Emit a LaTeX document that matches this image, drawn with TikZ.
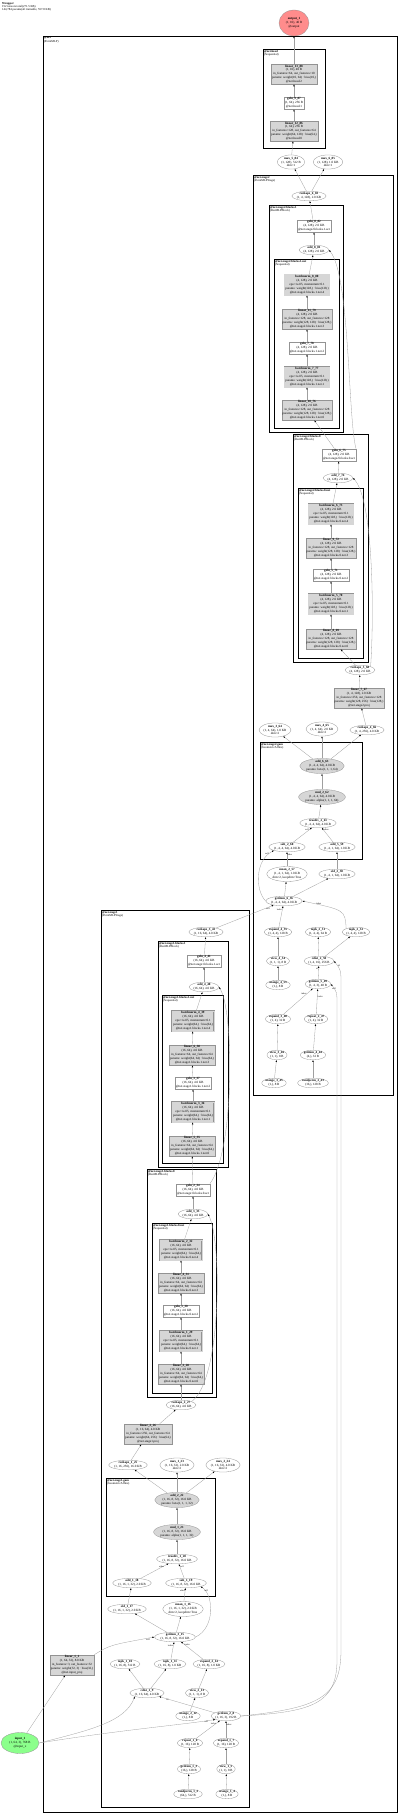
\documentclass[tikz,border=0pt]{standalone}
\usepackage{fontspec}
\setmainfont{Liberation Serif}
\usepackage{tikz}
\usetikzlibrary{shapes.geometric, arrows.meta}
\newcommand{\nsize}{\fontsize{3.2}{3.9}\selectfont}
\newcommand{\csize}{\fontsize{3.0}{3.4}\selectfont}
\newcommand{\lsize}{\fontsize{2.3}{2.5}\selectfont}

\begin{document}
\begin{tikzpicture}[x=1pt, y=-1pt,
  op/.style={draw=gray!85, fill=white, line width=0.3pt, inner sep=0.9pt,
             align=center, font=\nsize},
  mod/.style={op, fill=gray!32},
  bn/.style={mod, double=gray!32, double distance=0.7pt},
  fn/.style={ellipse, draw=gray!85, fill=white, line width=0.3pt, inner sep=0pt,
             align=center, font=\nsize},
  pfn/.style={fn, fill=gray!32},
  cluster/.style={draw=black, line width=0.7pt},
  clabel/.style={anchor=north west, align=left, inner sep=0.8pt, font=\csize},
  edge/.style={draw=gray!75, line width=0.3pt, -{Latex[length=2pt, width=1.5pt, black]}},
  elab/.style={font=\lsize, inner sep=0.2pt}
]
  \useasboundingbox (0,0) rectangle (400,1815);
  \node[anchor=north west, align=left, inner sep=0pt, font=\csize] (title) at (2,2)
    {\textbf{Wrapper}\\152 tensors total(271.5 KB)\\144,784 params(all trainable, 557.8 KB)};

  % Output
  \node[fn, fill=red!45!white, minimum width=30pt, minimum height=26pt] (output_1) at (294,23)
    {\textbf{output\_1}\\(1, 10), 40 B\\@output};

  % Clusters
  \draw[cluster, line width=1pt] (43,36) rectangle (397,1812);
  \node[clabel] (c_net) at (43,36) {\textbf{@net}\\(PointMLP)};
  \draw[cluster] (263,49) rectangle (325,148);
  \node[clabel] (c_head) at (263,49) {\textbf{@net.head}\\(Sequential)};
  \draw[cluster] (253,175) rectangle (393,1095);
  \node[clabel] (c_st2) at (253,175) {\textbf{@net.stage2}\\(PointMLPStage)};
  \draw[cluster] (269,205) rectangle (343,432);
  \node[clabel] (c_st2b1) at (269,205) {\textbf{@net.stage2.blocks.1}\\(ResMLPBlock)};
  \draw[cluster] (274,259) rectangle (339,428);
  \node[clabel] (c_st2b1n) at (274,259) {\textbf{@net.stage2.blocks.1.net}\\(Sequential)};
  \draw[cluster] (293,434) rectangle (368,662);
  \node[clabel] (c_st2b0) at (293,434) {\textbf{@net.stage2.blocks.0}\\(ResMLPBlock)};
  \draw[cluster] (298,488) rectangle (363,658);
  \node[clabel] (c_st2b0n) at (298,488) {\textbf{@net.stage2.blocks.0.net}\\(Sequential)};
  \draw[cluster] (260,742) rectangle (362,859);
  \node[clabel] (c_st2g) at (260,742) {\textbf{@net.stage2.gam}\\(GeometricAffine)};
  \draw[cluster] (101,910) rectangle (249,1807);
  \node[clabel] (c_st1) at (101,910) {\textbf{@net.stage1}\\(PointMLPStage)};
  \draw[cluster] (158,941) rectangle (228,1167);
  \node[clabel] (c_st1b1) at (158,941) {\textbf{@net.stage1.blocks.1}\\(ResMLPBlock)};
  \draw[cluster] (162,995) rectangle (223,1163);
  \node[clabel] (c_st1b1n) at (162,995) {\textbf{@net.stage1.blocks.1.net}\\(Sequential)};
  \draw[cluster] (147,1169) rectangle (216,1397);
  \node[clabel] (c_st1b0) at (147,1169) {\textbf{@net.stage1.blocks.0}\\(ResMLPBlock)};
  \draw[cluster] (152,1223) rectangle (212,1393);
  \node[clabel] (c_st1b0n) at (152,1223) {\textbf{@net.stage1.blocks.0.net}\\(Sequential)};
  \draw[cluster] (106,1478) rectangle (215,1596);
  \node[clabel] (c_st1g) at (106,1478) {\textbf{@net.stage1.gam}\\(GeometricAffine)};

  % Head
  \node[mod] (linear_13_88) at (294,74) {\textbf{linear\_13\_88}\\(1, 10), 40 B\\in\_features=64, out\_features=10\\params: weight(10, 64) · bias(10,)\\@net.head.2};
  \node[op] (gelu_9_87) at (294,103) {\textbf{gelu\_9\_87}\\(1, 64), 256 B\\@net.head.1};
  \node[mod] (linear_12_86) at (294,131) {\textbf{linear\_12\_86}\\(1, 64), 256 B\\in\_features=128, out\_features=64\\params: weight(64, 128) · bias(64,)\\@net.head.0};
  \node[fn] (max_5_84) at (291,162) {\textbf{max\_5\_84}\\(1, 128), 512 B\\dim=1};
  \node[fn] (max_6_85) at (328,162) {\textbf{max\_6\_85}\\(1, 128), 1.0 KB\\dim=1};

  % Stage 2: blocks
  \node[fn] (reshape_6_83) at (309,196) {\textbf{reshape\_6\_83}\\(1, 4, 128), 2.0 KB};
  \node[op] (gelu_8_82) at (314,226) {\textbf{gelu\_8\_82}\\(4, 128), 2.0 KB\\@net.stage2.blocks.1.act};
  \node[fn] (add_8_81) at (314,250) {\textbf{add\_8\_81}\\(4, 128), 2.0 KB};
  \node[bn] (batchnorm_8_80) at (307,285) {\textbf{batchnorm\_8\_80}\\(4, 128), 2.0 KB\\eps=1e-05, momentum=0.1\\params: weight(128,) · bias(128,)\\@net.stage2.blocks.1.net.4};
  \node[mod] (linear_11_79) at (307,319) {\textbf{linear\_11\_79}\\(4, 128), 2.0 KB\\in\_features=128, out\_features=128\\params: weight(128, 128) · bias(128,)\\@net.stage2.blocks.1.net.3};
  \node[op] (gelu_7_78) at (307,348) {\textbf{gelu\_7\_78}\\(4, 128), 2.0 KB\\@net.stage2.blocks.1.net.2};
  \node[bn] (batchnorm_7_77) at (307,377) {\textbf{batchnorm\_7\_77}\\(4, 128), 2.0 KB\\eps=1e-05, momentum=0.1\\params: weight(128,) · bias(128,)\\@net.stage2.blocks.1.net.1};
  \node[mod] (linear_10_76) at (307,410) {\textbf{linear\_10\_76}\\(4, 128), 2.0 KB\\in\_features=128, out\_features=128\\params: weight(128, 128) · bias(128,)\\@net.stage2.blocks.1.net.0};
  \node[op] (gelu_6_75) at (339,455) {\textbf{gelu\_6\_75}\\(4, 128), 2.0 KB\\@net.stage2.blocks.0.act};
  \node[fn] (add_7_74) at (338,478) {\textbf{add\_7\_74}\\(4, 128), 2.0 KB};
  \node[bn] (batchnorm_6_73) at (331,514) {\textbf{batchnorm\_6\_73}\\(4, 128), 2.0 KB\\eps=1e-05, momentum=0.1\\params: weight(128,) · bias(128,)\\@net.stage2.blocks.0.net.4};
  \node[mod] (linear_9_72) at (331,548) {\textbf{linear\_9\_72}\\(4, 128), 2.0 KB\\in\_features=128, out\_features=128\\params: weight(128, 128) · bias(128,)\\@net.stage2.blocks.0.net.3};
  \node[op] (gelu_5_71) at (331,575) {\textbf{gelu\_5\_71}\\(4, 128), 2.0 KB\\@net.stage2.blocks.0.net.2};
  \node[bn] (batchnorm_5_70) at (331,604) {\textbf{batchnorm\_5\_70}\\(4, 128), 2.0 KB\\eps=1e-05, momentum=0.1\\params: weight(128,) · bias(128,)\\@net.stage2.blocks.0.net.1};
  \node[mod] (linear_8_69) at (331,639) {\textbf{linear\_8\_69}\\(4, 128), 2.0 KB\\in\_features=128, out\_features=128\\params: weight(128, 128) · bias(128,)\\@net.stage2.blocks.0.net.0};
  \node[fn] (reshape_5_68) at (360,670) {\textbf{reshape\_5\_68}\\(4, 128), 2.0 KB};
  \node[mod] (linear_7_67) at (359,698) {\textbf{linear\_7\_67}\\(1, 4, 128), 2.0 KB\\in\_features=256, out\_features=128\\params: weight(128, 256) · bias(128,)\\@net.stage2.proj};

  % Stage 2: geometric affine
  \node[fn] (max_3_64) at (275,730) {\textbf{max\_3\_64}\\(1, 4, 64), 1.0 KB\\dim=2};
  \node[fn] (max_4_65) at (322,729) {\textbf{max\_4\_65}\\(1, 4, 64), 2.0 KB\\dim=2};
  \node[fn] (reshape_4_66) at (367,730) {\textbf{reshape\_4\_66}\\(1, 4, 256), 4.0 KB};
  \node[pfn] (add_6_63) at (322,766) {\textbf{add\_6\_63}\\(1, 4, 4, 64), 4.0 KB\\params: beta(1, 1, 1, 64)};
  \node[pfn] (mul_2_62) at (322,797) {\textbf{mul\_2\_62}\\(1, 4, 4, 64), 4.0 KB\\params: alpha(1, 1, 1, 64)};
  \node[fn] (truediv_2_61) at (318,823) {\textbf{truediv\_2\_61}\\(1, 4, 4, 64), 4.0 KB};
  \node[fn] (sub_2_60) at (287,847) {\textbf{sub\_2\_60}\\(1, 4, 4, 64), 4.0 KB};
  \node[fn] (add_5_59) at (337,847) {\textbf{add\_5\_59}\\(1, 4, 1, 64), 1.0 KB};
  \node[fn] (mean_2_57) at (287,874) {\textbf{mean\_2\_57}\\(1, 4, 1, 64), 1.0 KB\\dim=2, keepdim=True};
  \node[fn] (std_2_58) at (337,874) {\textbf{std\_2\_58}\\(1, 4, 1, 64), 1.0 KB};
  \node[fn] (getitem_6_56) at (284,901) {\textbf{getitem\_6\_56}\\(1, 4, 4, 64), 4.0 KB};

  % Stage 2: grouping
  \node[fn] (expand_4_55) at (278,932) {\textbf{expand\_4\_55}\\(1, 4, 4), 128 B};
  \node[fn] (topk_2_51) at (318,932) {\textbf{topk\_2\_51}\\(1, 4, 4), 64 B};
  \node[fn] (topk_2_52) at (356,932) {\textbf{topk\_2\_52}\\(1, 4, 4), 128 B};
  \node[fn] (view_4_54) at (278,961) {\textbf{view\_4\_54}\\(1, 1, 1), 8 B};
  \node[fn] (cdist_2_50) at (319,961) {\textbf{cdist\_2\_50}\\(1, 4, 16), 256 B};
  \node[fn] (arange_4_53) at (278,985) {\textbf{arange\_4\_53}\\(1,), 8 B};
  \node[fn] (getitem_5_49) at (318,984) {\textbf{getitem\_5\_49}\\(1, 4, 3), 48 B};
  \node[fn] (expand_3_48) at (278,1019) {\textbf{expand\_3\_48}\\(1, 4), 32 B};
  \node[fn] (repeat_2_47) at (316,1019) {\textbf{repeat\_2\_47}\\(1, 4), 32 B};
  \node[fn] (view_3_46) at (277,1055) {\textbf{view\_3\_46}\\(1, 1), 8 B};
  \node[fn] (getitem_4_44) at (313,1055) {\textbf{getitem\_4\_44}\\(4,), 32 B};
  \node[fn] (arange_3_45) at (274,1083) {\textbf{arange\_3\_45}\\(1,), 8 B};
  \node[fn] (randperm_2_43) at (313,1083) {\textbf{randperm\_2\_43}\\(16,), 128 B};

  % Stage 1: blocks
  \node[fn] (reshape_3_42) at (206,932) {\textbf{reshape\_3\_42}\\(1, 16, 64), 4.0 KB};
  \node[op] (gelu_4_41) at (204,961) {\textbf{gelu\_4\_41}\\(16, 64), 4.0 KB\\@net.stage1.blocks.1.act};
  \node[fn] (add_4_40) at (204,987) {\textbf{add\_4\_40}\\(16, 64), 4.0 KB};
  \node[bn] (batchnorm_4_39) at (193,1021) {\textbf{batchnorm\_4\_39}\\(16, 64), 4.0 KB\\eps=1e-05, momentum=0.1\\params: weight(64,) · bias(64,)\\@net.stage1.blocks.1.net.4};
  \node[mod] (linear_6_38) at (192,1055) {\textbf{linear\_6\_38}\\(16, 64), 4.0 KB\\in\_features=64, out\_features=64\\params: weight(64, 64) · bias(64,)\\@net.stage1.blocks.1.net.3};
  \node[op] (gelu_3_37) at (193,1083) {\textbf{gelu\_3\_37}\\(16, 64), 4.0 KB\\@net.stage1.blocks.1.net.2};
  \node[bn] (batchnorm_3_36) at (193,1112) {\textbf{batchnorm\_3\_36}\\(16, 64), 4.0 KB\\eps=1e-05, momentum=0.1\\params: weight(64,) · bias(64,)\\@net.stage1.blocks.1.net.1};
  \node[mod] (linear_5_35) at (192,1146) {\textbf{linear\_5\_35}\\(16, 64), 4.0 KB\\in\_features=64, out\_features=64\\params: weight(64, 64) · bias(64,)\\@net.stage1.blocks.1.net.0};
  \node[op] (gelu_2_34) at (193,1190) {\textbf{gelu\_2\_34}\\(16, 64), 4.0 KB\\@net.stage1.blocks.0.act};
  \node[fn] (add_3_33) at (193,1214) {\textbf{add\_3\_33}\\(16, 64), 4.0 KB};
  \node[bn] (batchnorm_2_32) at (181,1250) {\textbf{batchnorm\_2\_32}\\(16, 64), 4.0 KB\\eps=1e-05, momentum=0.1\\params: weight(64,) · bias(64,)\\@net.stage1.blocks.0.net.4};
  \node[mod] (linear_4_31) at (181,1283) {\textbf{linear\_4\_31}\\(16, 64), 4.0 KB\\in\_features=64, out\_features=64\\params: weight(64, 64) · bias(64,)\\@net.stage1.blocks.0.net.3};
  \node[op] (gelu_1_30) at (181,1311) {\textbf{gelu\_1\_30}\\(16, 64), 4.0 KB\\@net.stage1.blocks.0.net.2};
  \node[bn] (batchnorm_1_29) at (181,1341) {\textbf{batchnorm\_1\_29}\\(16, 64), 4.0 KB\\eps=1e-05, momentum=0.1\\params: weight(64,) · bias(64,)\\@net.stage1.blocks.0.net.1};
  \node[mod] (linear_3_28) at (181,1374) {\textbf{linear\_3\_28}\\(16, 64), 4.0 KB\\in\_features=64, out\_features=64\\params: weight(64, 64) · bias(64,)\\@net.stage1.blocks.0.net.0};
  \node[fn] (reshape_2_27) at (181,1405) {\textbf{reshape\_2\_27}\\(16, 64), 4.0 KB};
  \node[mod] (linear_2_26) at (148,1434) {\textbf{linear\_2\_26}\\(1, 16, 64), 4.0 KB\\in\_features=256, out\_features=64\\params: weight(64, 256) · bias(64,)\\@net.stage1.proj};

  % Stage 1: geometric affine
  \node[fn] (reshape_1_25) at (128,1465) {\textbf{reshape\_1\_25}\\(1, 16, 256), 16.0 KB};
  \node[fn] (max_1_23) at (177,1465) {\textbf{max\_1\_23}\\(1, 16, 32), 2.0 KB\\dim=2};
  \node[fn] (max_2_24) at (223,1465) {\textbf{max\_2\_24}\\(1, 16, 32), 4.0 KB\\dim=2};
  \node[pfn] (add_2_22) at (177,1500) {\textbf{add\_2\_22}\\(1, 16, 8, 32), 16.0 KB\\params: beta(1, 1, 1, 32)};
  \node[pfn] (mul_1_21) at (177,1532) {\textbf{mul\_1\_21}\\(1, 16, 8, 32), 16.0 KB\\params: alpha(1, 1, 1, 32)};
  \node[fn] (truediv_1_20) at (177,1559) {\textbf{truediv\_1\_20}\\(1, 16, 8, 32), 16.0 KB};
  \node[fn] (add_1_18) at (132,1583) {\textbf{add\_1\_18}\\(1, 16, 1, 32), 2.0 KB};
  \node[fn] (sub_1_19) at (186,1583) {\textbf{sub\_1\_19}\\(1, 16, 8, 32), 16.0 KB};
  \node[fn] (std_1_17) at (127,1609) {\textbf{std\_1\_17}\\(1, 16, 1, 32), 2.0 KB};
  \node[fn] (mean_1_16) at (183,1609) {\textbf{mean\_1\_16}\\(1, 16, 1, 32), 2.0 KB\\dim=2, keepdim=True};
  \node[fn] (getitem_3_15) at (175,1637) {\textbf{getitem\_3\_15}\\(1, 16, 8, 32), 16.0 KB};

  % Stage 1: grouping
  \node[fn] (topk_1_10) at (125,1664) {\textbf{topk\_1\_10}\\(1, 16, 8), 512 B};
  \node[fn] (topk_1_11) at (170,1664) {\textbf{topk\_1\_11}\\(1, 16, 8), 1.0 KB};
  \node[fn] (expand_2_14) at (209,1664) {\textbf{expand\_2\_14}\\(1, 16, 8), 1.0 KB};
  \node[fn] (cdist_1_9) at (147,1693) {\textbf{cdist\_1\_9}\\(1, 16, 64), 4.0 KB};
  \node[fn] (view_2_13) at (197,1693) {\textbf{view\_2\_13}\\(1, 1, 1), 8 B};
  \node[fn] (arange_2_12) at (188,1716) {\textbf{arange\_2\_12}\\(1,), 8 B};
  \node[fn] (getitem_2_8) at (226,1716) {\textbf{getitem\_2\_8}\\(1, 16, 3), 192 B};
  \node[fn] (repeat_1_6) at (190,1743) {\textbf{repeat\_1\_6}\\(1, 16), 128 B};
  \node[fn] (expand_1_7) at (226,1743) {\textbf{expand\_1\_7}\\(1, 16), 128 B};
  \node[fn] (getitem_1_3) at (189,1769) {\textbf{getitem\_1\_3}\\(16,), 128 B};
  \node[fn] (view_1_5) at (226,1769) {\textbf{view\_1\_5}\\(1, 1), 8 B};
  \node[fn] (randperm_1_2) at (188,1794) {\textbf{randperm\_1\_2}\\(64,), 512 B};
  \node[fn] (arange_1_4) at (227,1794) {\textbf{arange\_1\_4}\\(1,), 8 B};

  % Input
  \node[mod] (linear_1_1) at (72,1665) {\textbf{linear\_1\_1}\\(1, 64, 32), 8.0 KB\\in\_features=3, out\_features=32\\params: weight(32, 3) · bias(32,)\\@net.input\_proj};
  \node[fn, fill=green!45!white, minimum width=38pt, minimum height=21pt] (input_1) at (20,1743)
    {\textbf{input\_1}\\(1, 64, 3), 768 B\\@input\_x};

  % Edges: input and stage 1 grouping
  \draw[edge] (input_1) -- (linear_1_1);
  \draw[edge] (input_1.east) .. controls (90,1730) and (125,1722) .. (cdist_1_9.south west);
  \draw[edge] (input_1.east) .. controls (120,1730) and (180,1725) .. node[elab, pos=0.92, below] {self} (getitem_2_8.south west);
  \draw[edge] (randperm_1_2) -- (getitem_1_3);
  \draw[edge] (getitem_1_3) -- (repeat_1_6);
  \draw[edge] (repeat_1_6) -- node[elab, pos=0.85, left] {index} (getitem_2_8);
  \draw[edge] (arange_1_4) -- (view_1_5);
  \draw[edge] (view_1_5) -- (expand_1_7);
  \draw[edge] (expand_1_7) -- node[elab, pos=0.8, right] {index} (getitem_2_8);
  \draw[edge] (getitem_2_8) -- node[elab, pos=0.85, below] {x2} (cdist_1_9);
  \draw[edge] (cdist_1_9) -- (topk_1_10);
  \draw[edge] (cdist_1_9) -- (topk_1_11);
  \draw[edge] (arange_2_12) -- (view_2_13);
  \draw[edge] (view_2_13) -- (expand_2_14);
  \draw[edge] (expand_2_14) -- node[elab, pos=0.85, right] {index} (getitem_3_15);
  \draw[edge] (topk_1_11) -- node[elab, pos=0.8, left] {index} (getitem_3_15);
  \draw[edge] (linear_1_1.north east) .. controls (110,1645) .. node[elab, pos=0.95, below] {self} (getitem_3_15.west);

  % Edges: stage 1 geometric affine
  \draw[edge] (getitem_3_15) -- (std_1_17);
  \draw[edge] (getitem_3_15) -- (mean_1_16);
  \draw[edge] (getitem_3_15.east) .. controls (215,1628) and (214,1595) .. node[elab, pos=0.9, below right] {self} (sub_1_19.south east);
  \draw[edge] (std_1_17) -- (add_1_18);
  \draw[edge] (mean_1_16) -- node[elab, pos=0.8, left] {other} (sub_1_19);
  \draw[edge] (add_1_18) -- node[elab, pos=0.85, below left] {other} (truediv_1_20);
  \draw[edge] (sub_1_19) -- node[elab, pos=0.8, right] {self} (truediv_1_20);
  \draw[edge] (truediv_1_20) -- (mul_1_21);
  \draw[edge] (mul_1_21) -- (add_2_22);
  \draw[edge] (add_2_22) -- (reshape_1_25);
  \draw[edge] (add_2_22) -- (max_1_23);
  \draw[edge] (add_2_22) -- (max_2_24);

  % Edges: stage 1 blocks
  \draw[edge] (reshape_1_25) -- (linear_2_26);
  \draw[edge] (linear_2_26) -- (reshape_2_27);
  \draw[edge] (reshape_2_27) -- (linear_3_28);
  \draw[edge] (linear_3_28) -- (batchnorm_1_29);
  \draw[edge] (batchnorm_1_29) -- (gelu_1_30);
  \draw[edge] (gelu_1_30) -- (linear_4_31);
  \draw[edge] (linear_4_31) -- (batchnorm_2_32);
  \draw[edge] (batchnorm_2_32) -- (add_3_33);
  \draw[edge] (reshape_2_27.north east) .. controls (222,1380) and (222,1240) .. (add_3_33.east);
  \draw[edge] (add_3_33) -- (gelu_2_34);
  \draw[edge] (gelu_2_34) -- (linear_5_35);
  \draw[edge] (linear_5_35) -- (batchnorm_3_36);
  \draw[edge] (batchnorm_3_36) -- (gelu_3_37);
  \draw[edge] (gelu_3_37) -- (linear_6_38);
  \draw[edge] (linear_6_38) -- (batchnorm_4_39);
  \draw[edge] (batchnorm_4_39) -- (add_4_40);
  \draw[edge] (gelu_2_34.north east) .. controls (235,1150) and (234,1010) .. (add_4_40.east);
  \draw[edge] (add_4_40) -- (gelu_4_41);
  \draw[edge] (gelu_4_41) -- (reshape_3_42);
  \draw[edge] (reshape_3_42) -- node[elab, pos=0.9, below] {self} (getitem_6_56);

  % Edges: stage 2 grouping
  \draw[edge] (randperm_2_43) -- (getitem_4_44);
  \draw[edge] (getitem_4_44) -- (repeat_2_47);
  \draw[edge] (arange_3_45) -- (view_3_46);
  \draw[edge] (view_3_46) -- (expand_3_48);
  \draw[edge] (expand_3_48) -- node[elab, pos=0.8, left] {index} (getitem_5_49);
  \draw[edge] (repeat_2_47) -- node[elab, pos=0.7, right] {index} (getitem_5_49);
  \draw[edge] (getitem_2_8.east) .. controls (310,1712) and (337,1705) .. (337,1660) -- (337,1005)
    .. controls (337,992) .. node[elab, pos=0.8, below] {self} (getitem_5_49.east);
  \draw[edge] (getitem_2_8.east) .. controls (318,1708) and (341,1698) .. (341,1650) -- (341,985)
    .. controls (341,970) .. node[elab, pos=0.8, right] {x2} (cdist_2_50.east);
  \draw[edge] (getitem_5_49) -- node[elab, pos=0.8, left] {x1} (cdist_2_50);
  \draw[edge] (cdist_2_50) -- (topk_2_51);
  \draw[edge] (cdist_2_50) -- (topk_2_52);
  \draw[edge] (arange_4_53) -- (view_4_54);
  \draw[edge] (view_4_54) -- (expand_4_55);
  \draw[edge] (expand_4_55) -- node[elab, pos=0.8, left] {index} (getitem_6_56);
  \draw[edge] (topk_2_52.north west) .. controls (345,910) .. node[elab, pos=0.85, above] {index} (getitem_6_56.east);

  % Edges: stage 2 geometric affine
  \draw[edge] (getitem_6_56) -- (mean_2_57);
  \draw[edge] (getitem_6_56) -- (std_2_58);
  \draw[edge] (getitem_6_56.west) .. controls (255,890) and (255,860) .. node[elab, pos=0.9, left] {self} (sub_2_60.south west);
  \draw[edge] (mean_2_57) -- node[elab, pos=0.8, right] {other} (sub_2_60);
  \draw[edge] (std_2_58) -- (add_5_59);
  \draw[edge] (sub_2_60) -- node[elab, pos=0.85, left] {self} (truediv_2_61);
  \draw[edge] (add_5_59) -- node[elab, pos=0.85, right] {other} (truediv_2_61);
  \draw[edge] (truediv_2_61) -- (mul_2_62);
  \draw[edge] (mul_2_62) -- (add_6_63);
  \draw[edge] (add_6_63) -- (max_3_64);
  \draw[edge] (add_6_63) -- (max_4_65);
  \draw[edge] (add_6_63) -- (reshape_4_66);

  % Edges: stage 2 blocks
  \draw[edge] (reshape_4_66) -- (linear_7_67);
  \draw[edge] (linear_7_67) -- (reshape_5_68);
  \draw[edge] (reshape_5_68) -- (linear_8_69);
  \draw[edge] (linear_8_69) -- (batchnorm_5_70);
  \draw[edge] (batchnorm_5_70) -- (gelu_5_71);
  \draw[edge] (gelu_5_71) -- (linear_9_72);
  \draw[edge] (linear_9_72) -- (batchnorm_6_73);
  \draw[edge] (batchnorm_6_73) -- (add_7_74);
  \draw[edge] (reshape_5_68.north east) .. controls (374,620) and (374,500) .. (add_7_74.east);
  \draw[edge] (add_7_74) -- (gelu_6_75);
  \draw[edge] (gelu_6_75) -- (linear_10_76);
  \draw[edge] (linear_10_76) -- (batchnorm_7_77);
  \draw[edge] (batchnorm_7_77) -- (gelu_7_78);
  \draw[edge] (gelu_7_78) -- (linear_11_79);
  \draw[edge] (linear_11_79) -- (batchnorm_8_80);
  \draw[edge] (batchnorm_8_80) -- (add_8_81);
  \draw[edge] (gelu_6_75.north east) .. controls (348,420) and (350,275) .. (add_8_81.east);
  \draw[edge] (add_8_81) -- (gelu_8_82);
  \draw[edge] (gelu_8_82) -- (reshape_6_83);

  % Edges: head
  \draw[edge] (reshape_6_83) -- (max_5_84);
  \draw[edge] (reshape_6_83) -- (max_6_85);
  \draw[edge] (max_5_84) -- (linear_12_86);
  \draw[edge] (linear_12_86) -- (gelu_9_87);
  \draw[edge] (gelu_9_87) -- (linear_13_88);
  \draw[edge] (linear_13_88) -- (output_1);
\end{tikzpicture}
\end{document}
